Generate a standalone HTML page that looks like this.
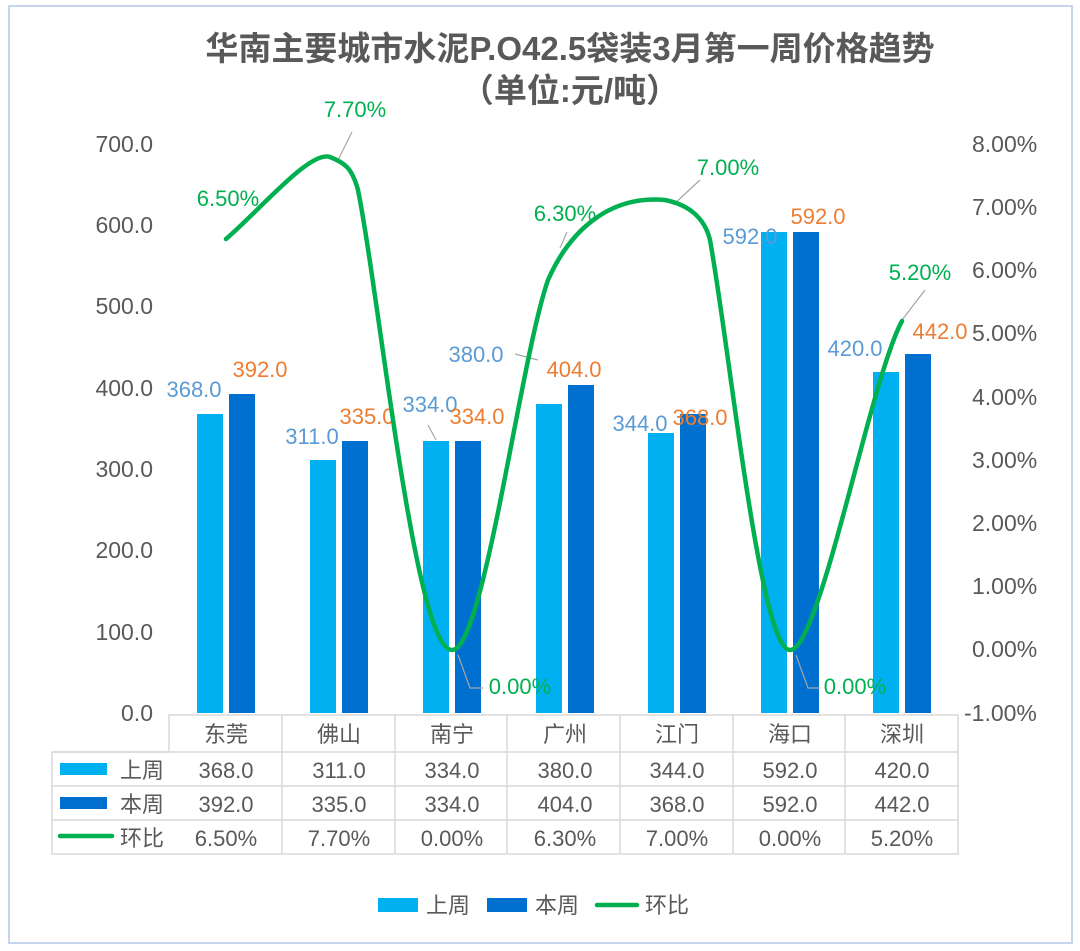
<!DOCTYPE html>
<html><head><meta charset="utf-8"><style>
body{margin:0;background:#fff}
svg{display:block;font-family:"Liberation Sans","Noto Sans CJK SC",sans-serif}
</style></head><body>
<svg width="1080" height="951" viewBox="0 0 1080 951">
<rect x="9" y="6" width="1063" height="937" fill="#fff" stroke="#c5d5ee" stroke-width="2"/>
<text x="570" y="60" text-anchor="middle" font-size="33" font-weight="bold" fill="#595959">华南主要城市水泥P.O42.5袋装3月第一周价格趋势</text>
<text x="570" y="102" text-anchor="middle" font-size="33" font-weight="bold" fill="#595959">（单位:元/吨）</text>
<g font-size="23" fill="#595959" text-anchor="end">
<text x="153" y="152">700.0</text><text x="153" y="233">600.0</text><text x="153" y="314">500.0</text>
<text x="153" y="396">400.0</text><text x="153" y="477">300.0</text><text x="153" y="558">200.0</text>
<text x="153" y="640">100.0</text><text x="153" y="721">0.0</text>
</g>
<g font-size="23" fill="#595959">
<text x="972" y="152">8.00%</text><text x="972" y="215">7.00%</text><text x="972" y="278">6.00%</text>
<text x="972" y="341">5.00%</text><text x="972" y="405">4.00%</text><text x="972" y="468">3.00%</text>
<text x="972" y="531">2.00%</text><text x="972" y="594">1.00%</text><text x="972" y="657">0.00%</text>
<text x="964" y="721">-1.00%</text>
</g>
<g fill="#00b0f0">
<rect x="197" y="414" width="26" height="299"/><rect x="310" y="460" width="26" height="253"/>
<rect x="423" y="441" width="26" height="272"/><rect x="536" y="404" width="26" height="309"/>
<rect x="648" y="433" width="26" height="280"/><rect x="761" y="232" width="26" height="481"/>
<rect x="873" y="372" width="26" height="341"/>
</g>
<g fill="#0070d0">
<rect x="229" y="394" width="26" height="319"/><rect x="342" y="441" width="26" height="272"/>
<rect x="455" y="441" width="26" height="272"/><rect x="568" y="385" width="26" height="328"/>
<rect x="680" y="414" width="26" height="299"/><rect x="793" y="232" width="26" height="481"/>
<rect x="905" y="354" width="26" height="359"/>
</g>
<g font-size="22" fill="#5b9bd5" text-anchor="middle">
<text x="194" y="397">368.0</text><text x="312" y="444">311.0</text><text x="430" y="412">334.0</text>
<text x="476" y="362">380.0</text><text x="640" y="431">344.0</text><text x="750" y="244">592.0</text>
<text x="855" y="356">420.0</text>
</g>
<g font-size="22" fill="#ed7d31" text-anchor="middle">
<text x="260" y="377">392.0</text><text x="367" y="424">335.0</text><text x="477" y="424">334.0</text>
<text x="574" y="377">404.0</text><text x="700" y="425">368.0</text><text x="818" y="224">592.0</text>
<text x="940" y="339">442.0</text>
</g>
<g stroke="#a6a6a6" stroke-width="1.2" fill="none">
<path d="M515 354 L538 360"/><path d="M428 425 L436 440"/>
<path d="M338 160 L352 132"/><path d="M560 248 L567 232"/><path d="M673 205 L700 180"/>
<path d="M458 655 L470 688 L483 688"/><path d="M796 655 L808 688 L820 688"/><path d="M902 320 L925 290"/>
</g>
<path d="M226 239 C260 210 310 150 330 157 C345 163 352 168 358 190 C380 300 415 650 452 650 C484 650 520 360 548 280 C570 230 610 195 665 200 C690 205 705 219 710 240 C730 350 760 650 790 650 C820 650 870 380 902 321" fill="none" stroke="#00b050" stroke-width="4.5" stroke-linecap="round"/>
<g font-size="22" fill="#00b050" text-anchor="middle">
<text x="228" y="206">6.50%</text><text x="355" y="117">7.70%</text><text x="520" y="694">0.00%</text>
<text x="565" y="221">6.30%</text><text x="728" y="175">7.00%</text><text x="855" y="694">0.00%</text>
<text x="920" y="280">5.20%</text>
</g>
<g stroke="#d9d9d9" stroke-width="1.5" fill="none">
<path d="M169 715 H958 V854 H52 V752 H169 Z"/>
<path d="M52 752 H958 M52 786 H958 M52 820 H958"/>
<path d="M282 715 V854 M395 715 V854 M507 715 V854 M620 715 V854 M733 715 V854 M845 715 V854"/>
</g>
<g font-size="22" fill="#595959" text-anchor="middle">
<text x="226" y="742">东莞</text><text x="339" y="742">佛山</text><text x="452" y="742">南宁</text>
<text x="565" y="742">广州</text><text x="677" y="742">江门</text><text x="790" y="742">海口</text><text x="902" y="742">深圳</text>
<text x="226" y="778">368.0</text><text x="339" y="778">311.0</text><text x="452" y="778">334.0</text>
<text x="565" y="778">380.0</text><text x="677" y="778">344.0</text><text x="790" y="778">592.0</text><text x="902" y="778">420.0</text>
<text x="226" y="812">392.0</text><text x="339" y="812">335.0</text><text x="452" y="812">334.0</text>
<text x="565" y="812">404.0</text><text x="677" y="812">368.0</text><text x="790" y="812">592.0</text><text x="902" y="812">442.0</text>
<text x="226" y="846">6.50%</text><text x="339" y="846">7.70%</text><text x="452" y="846">0.00%</text>
<text x="565" y="846">6.30%</text><text x="677" y="846">7.00%</text><text x="790" y="846">0.00%</text><text x="902" y="846">5.20%</text>
</g>
<rect x="60" y="763" width="47" height="12" fill="#00b0f0"/>
<rect x="60" y="797" width="47" height="12" fill="#0070d0"/>
<path d="M60 836 H112" stroke="#00b050" stroke-width="4.5" stroke-linecap="round"/>
<g font-size="22" fill="#595959"><text x="120" y="778">上周</text><text x="120" y="812">本周</text><text x="120" y="846">环比</text></g>
<rect x="378" y="898" width="40" height="14" fill="#00b0f0"/>
<rect x="487" y="898" width="40" height="14" fill="#0070d0"/>
<path d="M597 905 H637" stroke="#00b050" stroke-width="4.5" stroke-linecap="round"/>
<g font-size="22" fill="#595959"><text x="426" y="913">上周</text><text x="535" y="913">本周</text><text x="645" y="913">环比</text></g>
</svg>
</body></html>
